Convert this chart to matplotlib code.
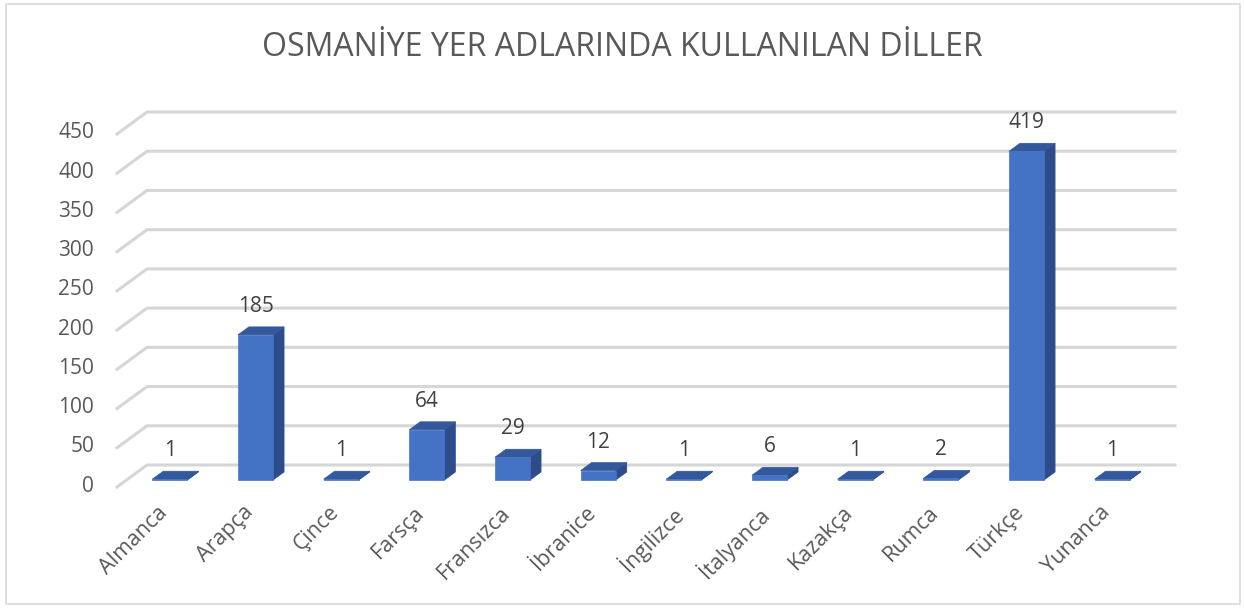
import numpy as np
import matplotlib
matplotlib.use("Agg")
import matplotlib.pyplot as plt
from matplotlib.patches import Polygon, Rectangle
from matplotlib.lines import Line2D
from matplotlib.transforms import IdentityTransform

# --- data ---
languages = ["Almanca", "Arapça", "Çince", "Farsça", "Fransızca", "İbranice",
             "İngilizce", "İtalyanca", "Kazakça", "Rumca", "Türkçe", "Yunanca"]
counts = [1, 185, 1, 64, 29, 12, 1, 6, 1, 2, 419, 1]
y_ticks = [0, 50, 100, 150, 200, 250, 300, 350, 400, 450]
title = "OSMANİYE YER ADLARINDA KULLANILAN DİLLER"

# --- style ---
plt.rcParams["font.family"] = ["Open Sans", "DejaVu Sans"]
TXT = "#595959"
VAL = "#404040"
GRID = "#D6D6D6"
FRONT = "#4472C4"
SIDE = "#2C4D89"
TOP = "#33589C"
FS = 15

W, H = 1244, 608
fig = plt.figure(figsize=(W / 100, H / 100), dpi=100)
ax = fig.add_axes([147 / W, (H - 465) / H, (1175 - 147) / W, (465 - 112) / H])
ax.set_xlim(-0.5, len(languages) - 0.5)
ax.set_ylim(0, 450)
ax.axis("off")
ax.set_zorder(10)  # labels on top of the gridlines

# depth offsets in pixels (x right, y up)
floor = np.array([-30, -22])
bar_front = np.array([-20, -15])
bar_back = np.array([-9, -7])
bw = 0.41
pt = 0.72  # px -> points at 100 dpi


def disp(x, y, off):
    return ax.transData.transform((x, y)) + off


def poly(pts, color, z):
    fig.add_artist(Polygon(pts, closed=True, facecolor=color, edgecolor=color,
                           linewidth=0.5, transform=IdentityTransform(), zorder=z))


# back wall gridlines + left diagonal
for v in y_ticks:
    p0 = disp(-0.5, v, floor)
    p1 = disp(-0.5, v, 0)
    p2 = disp(len(languages) - 0.5, v, 0)
    fig.add_artist(Line2D([p0[0], p1[0], p2[0]], [p0[1], p1[1], p2[1]], color=GRID,
                          linewidth=2.2, transform=IdentityTransform(), zorder=1))
    ax.annotate(str(v), xy=(-0.5, v), xytext=(-53 * pt, -21 * pt),
                textcoords="offset points", ha="right", va="center",
                fontsize=FS, color=TXT, annotation_clip=False)

# 3D-looking bars
for i, v in enumerate(counts):
    l, r = i - bw / 2, i + bw / 2
    # side face
    poly([disp(r, 0, bar_front), disp(r, 0, bar_back), disp(r, v, bar_back), disp(r, v, bar_front)], SIDE, 3)
    # top face
    poly([disp(l, v, bar_front), disp(l, v, bar_back), disp(r, v, bar_back), disp(r, v, bar_front)], TOP, 3)
    # front face
    poly([disp(l, 0, bar_front), disp(r, 0, bar_front), disp(r, v, bar_front), disp(l, v, bar_front)], FRONT, 4)
    # value label
    ax.annotate(str(v), xy=(i, v), xytext=(bar_front[0] * pt, (bar_front[1] + 18) * pt),
                textcoords="offset points", ha="center", va="bottom",
                fontsize=FS, color=VAL, annotation_clip=False)
    # category label
    ax.annotate(languages[i], xy=(i, 0), xytext=(-33 * pt, -37 * pt),
                textcoords="offset points", ha="right", va="top", rotation=45,
                rotation_mode="anchor", fontsize=15.5, color=TXT, annotation_clip=False)

fig.text(0.5, (H - 48) / H, title, ha="center", va="center", fontsize=23,
         color="#595959")

# chart border
fig.add_artist(Rectangle((6 / W, 4 / H), 1234 / W, 600 / H, transform=fig.transFigure,
                         fill=False, edgecolor="#D9D9D9", linewidth=1.2))

fig.savefig("out.png", dpi=100)
